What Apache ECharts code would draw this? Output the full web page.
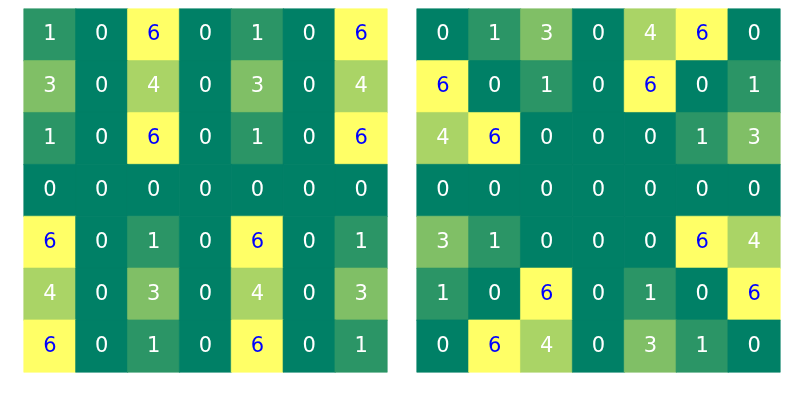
<!DOCTYPE html>
<html><head><meta charset="utf-8">
<script src="https://cdn.jsdelivr.net/npm/echarts@6/dist/echarts.min.js"></script>
<style>html,body{margin:0;padding:0;background:#fff}#c{width:790px;height:402px}</style>
</head><body><div id="c"></div>
<script>
const cols = ['0','1','2','3','4','5','6'];
const rows = ['0','1','2','3','4','5','6'];
const leftValues = [
  [1,0,6,0,1,0,6],
  [3,0,4,0,3,0,4],
  [1,0,6,0,1,0,6],
  [0,0,0,0,0,0,0],
  [6,0,1,0,6,0,1],
  [4,0,3,0,4,0,3],
  [6,0,1,0,6,0,1]
];
const rightValues = [
  [0,1,3,0,4,6,0],
  [6,0,1,0,6,0,1],
  [4,6,0,0,0,1,3],
  [0,0,0,0,0,0,0],
  [3,1,0,0,0,6,4],
  [1,0,6,0,1,0,6],
  [0,6,4,0,3,1,0]
];
const vmin = 0, vmax = 6;
// matplotlib "summer" colormap
function summer(v){
  const t = (v - vmin) / (vmax - vmin);
  const r = Math.round(t * 255), g = Math.round((0.5 + t / 2) * 255), b = 102;
  return 'rgb(' + r + ',' + g + ',' + b + ')';
}
function build(m){
  const out=[];
  m.forEach((r,i)=>r.forEach((v,j)=>{
    const c = summer(v);
    out.push({value:[j,i,v],itemStyle:{color:c,borderColor:c,borderWidth:0.6},label:{color: v>5?'#0000ff':'#ffffff'}});
  }));
  return out;
}
const chart = echarts.init(document.getElementById('c'),null,{renderer:'canvas'});
const ax = (gi)=>({type:'category',data:cols,gridIndex:gi,show:false});
const ay = (gi)=>({type:'category',data:rows,gridIndex:gi,show:false,inverse:true});
const lbl = {show:true,fontFamily:'"DejaVu Sans"',fontSize:21};
chart.setOption({
  animation:false,
  grid:[{left:24,top:9,width:363,height:363},{left:417,top:9,width:363,height:363}],
  xAxis:[ax(0),ax(1)],
  yAxis:[ay(0),ay(1)],
  series:[
    {type:'heatmap',xAxisIndex:0,yAxisIndex:0,data:build(leftValues),label:lbl},
    {type:'heatmap',xAxisIndex:1,yAxisIndex:1,data:build(rightValues),label:lbl}
  ]
});
</script></body></html>
